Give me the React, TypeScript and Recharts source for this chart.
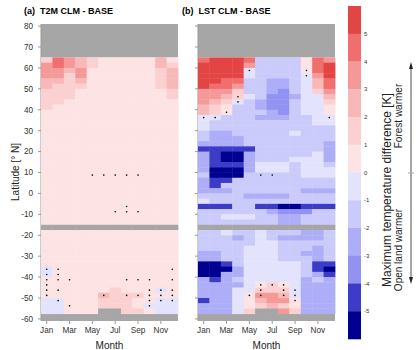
import React from 'react';
import { ScatterChart, Scatter, XAxis, YAxis, ReferenceArea } from 'recharts';

const months = ['Jan', 'Feb', 'Mar', 'Apr', 'May', 'Jun', 'Jul', 'Aug', 'Sep', 'Oct', 'Nov', 'Dec'];
const monthTicks = [1, 3, 5, 7, 9, 11];
const latTicks = [-60, -50, -40, -30, -20, -10, 0, 10, 20, 30, 40, 50, 60, 70, 80];

// top edge of each 2.5 degree latitude row, north to south
const rowTops = [
  65, 62.5, 60, 57.5, 55, 52.5, 50, 47.5, 45, 42.5, 40, 37.5, 35, 32.5, 30, 27.5, 25,
  22.5, 20, 17.5, 15, 12.5, 10, 7.5, 5, 2.5, 0, -2.5, -5, -7.5, -10, -12.5, -15, -17.5,
  -20, -22.5, -25, -27.5, -30, -32.5, -35, -37.5, -40, -42.5, -45, -47.5, -50, -52.5, -55,
];

// bin codes: '5' >5, '4' 4..5, ... '0' 0..1, 'a' -1..0, 'b' -2..-1, ... 'f' < -5, 'x' no data
const binCodes = ['5', '4', '3', '2', '1', '0', 'a', 'b', 'c', 'd', 'e', 'f'];
const binValues = [5.5, 4.5, 3.5, 2.5, 1.5, 0.5, -0.5, -1.5, -2.5, -3.5, -4.5, -5.5];
const binColors = [
  '#e34444', '#f06e6e', '#f59898', '#f8b8b8', '#fbd0d0', '#fde3e3',
  '#e3e3fd', '#cacafb', '#aeaef8', '#9292f3', '#3c3cc8', '#000090',
];
const cbTicks = [5, 4, 3, 2, 1, 0, -1, -2, -3, -4, -5];

// (a) T2M CLM - BASE, Jan..Dec per row
const t2mRows = [
  '143210000020', '343210000021', '332300000012', '331300000012', '221200000012',
  '211100000012', '111000000001', '111000000001', '110000000000', '100000000000',
  '000000000000', '000000000000', '000000000000', '000000000000', '000000000000',
  '000000000000', '000000000000', '000000000000', '000000000000', '000000000000',
  '000000000000', '000000000000', '000000000000', '000000000000', '000000000000',
  '000000000000', '000000000000', '000000000000', '000000000000', '000000000000',
  '000000000000', '000000000000', 'xxxxxxxxxxxx', '000000000000', '000000000000',
  '000000000000', '000000000000', '000000000000', '000000000000', '000000000000',
  'a00000000000', 'a00000000000', '000000000000', '000000000000', '0000001000a0',
  '000002111000', 'aa00011100aa', 'aa0001110aaa', 'aa000xx110aa',
];

// (b) LST CLM - BASE
const lstRows = [
  '45554bbbb043', '55553bbbb045', '5555abbbb045', '5555abbbba35', '5544bbccba24',
  '5443bbccba24', '3331bbcdba13', '3321abddcaa2', '321abcddbaa1', '210bbcddbaa0',
  '210bbbcdbaa0', 'aabbbcccbbaa', 'abbbbbbbbbaa', 'abbbbbbbbbbb', 'bccbbbbbabbb',
  'bcccbbbbbbbb', 'ccccbbbbbbbc', 'eeeeebbbbbbc', 'ceffcbbbbbac', 'ceffcbbbaaac',
  'ceeecaaabaab', 'cfffcaaabaaa', 'bfffbbbbbaaa', 'ceebbbbbbbbb', 'cebbbbbbbbbb',
  'cccbbbbbbccc', 'bbbbccccbbbb', 'abbbbbbbbbbb', 'eeebbeeffeee', 'bbbbbbcdddbb',
  'bbaaabbccbbb', 'bbbbbbbccbbb', 'xxxxxxxxxxxx', 'bbabbabbbccb', 'bbbcbabccccb',
  'bbbbbaabbbbb', 'bbbbaaabbbcb', 'ccbbaaabbccb', 'ccbbaaabbbcb', 'ffebaaaaabee',
  'fffcaaaaabef', 'ffccaaaaabce', 'cecbaaaaacbc', 'cccca010accc', 'cccaa111accc',
  'ccca0332accc', 'ecca02330ccc', 'ccca01210ccc', 'ccca1xx31ccc',
];

// significance stippling: [month, latitude]
const t2mDots = [
  [5, 8.75], [6, 8.75], [7, 8.75], [8, 8.75], [9, 8.75],
  [8, -6.25], [7, -8.75], [8, -8.75], [9, -8.75],
  [1, -36.25], [1, -38.75], [1, -41.25], [1, -43.75], [1, -46.25], [1, -48.75],
  [2, -36.25], [2, -38.75], [2, -41.25], [2, -46.25], [2, -51.25],
  [3, -41.25], [3, -53.75], [6, -48.75], [8, -41.25], [8, -48.75], [9, -41.25], [9, -48.75],
  [10, -41.25], [10, -46.25], [10, -48.75], [10, -51.25], [10, -53.75],
  [11, -46.25], [11, -48.75], [11, -51.25],
  [12, -36.25], [12, -41.25], [12, -46.25], [12, -48.75], [12, -51.25],
];
const lstDots = [
  [5, 58.75], [10, 58.75], [10, 56.25], [4, 46.25], [4, 43.75], [3, 38.75],
  [1, 36.25], [2, 36.25], [12, 36.25], [6, 8.75], [7, 8.75],
  [6, -43.75], [7, -43.75], [8, -43.75], [6, -46.25], [8, -46.25], [9, -46.25],
  [5, -48.75], [6, -48.75], [8, -48.75], [9, -48.75], [9, -51.25],
];

const GREY = '#a6a6a6';
const FONT = '"Liberation Sans", Arial, sans-serif';
const PLOT_W = 137;
const PLOT_H = 297;
const LAT_MIN = -61;
const LAT_MAX = 81;
const CELL_W = PLOT_W / 12;
const CELL_H = (PLOT_H * 2.5) / (LAT_MAX - LAT_MIN);
const CB_H = 333;

const buildCells = (rows: string[]) =>
  rows.flatMap((row, i) =>
    row.split('').map((code, j) => ({
      month: j + 1,
      lat: rowTops[i] - 1.25,
      v: code === 'x' ? null : binValues[binCodes.indexOf(code)],
    })),
  );

const colorFor = (v: number | null) => {
  if (v === null || v === undefined) return GREY;
  const k = binValues.indexOf(v);
  return binColors[k];
};

const CellShape = (props: any) => {
  const { cx, cy, payload } = props;
  return (
    <rect
      x={cx - CELL_W / 2}
      y={cy - CELL_H / 2}
      width={CELL_W + 0.4}
      height={CELL_H + 0.4}
      fill={colorFor(payload.v)}
    />
  );
};

const DotShape = (props: any) => <circle cx={props.cx} cy={props.cy} r={0.8} fill="#000" />;

const CbShape = (props: any) => {
  const { cx, cy, payload } = props;
  return (
    <rect x={cx - 6.5} y={cy - CB_H / 24} width={13} height={CB_H / 12 + 0.3} fill={colorFor(payload.v)} />
  );
};

function Panel({ rows, dots, labels }: { rows: string[]; dots: number[][]; labels: boolean }) {
  const cells = buildCells(rows);
  const dotData = dots.map(([m, lat]) => ({ month: m, lat }));
  const yW = labels ? 41 : 8;
  return (
    <ScatterChart width={yW + PLOT_W + 2} height={350} margin={{ top: 24, right: 2, bottom: 0, left: 0 }}>
      <XAxis
        type="number"
        dataKey="month"
        domain={[0.5, 12.5]}
        ticks={monthTicks}
        tickFormatter={(m: number) => months[m - 1]}
        axisLine={false}
        tickLine={{ stroke: '#999' }}
        tickSize={3}
        tickMargin={3}
        tick={{ fontSize: 8.2, fill: '#333' }}
        height={29}
        label={{ value: 'Month', position: 'insideBottom', offset: 1.5, fontSize: 10, fill: '#222' }}
      />
      <YAxis
        type="number"
        dataKey="lat"
        domain={[LAT_MIN, LAT_MAX]}
        ticks={latTicks}
        width={yW}
        axisLine={{ stroke: '#999' }}
        tickLine={{ stroke: '#999' }}
        tickSize={3}
        tickMargin={5}
        tick={{ fontSize: 8.2, fill: '#333' }}
        tickFormatter={(t: number) => (labels ? String(t) : '')}
      />
      <ReferenceArea y1={65} y2={LAT_MAX} fill={GREY} fillOpacity={1} stroke="none" />
      <ReferenceArea y1={LAT_MIN} y2={-57.5} fill={GREY} fillOpacity={1} stroke="none" />
      <Scatter data={cells} shape={CellShape} isAnimationActive={false} />
      <Scatter data={dotData} shape={DotShape} isAnimationActive={false} />
    </ScatterChart>
  );
}

function ColorBar() {
  const data = binValues.map((v) => ({ x: 0.5, v }));
  return (
    <ScatterChart width={36} height={350} margin={{ top: 6, right: 0, bottom: 11, left: 8 }}>
      <XAxis type="number" dataKey="x" domain={[0, 1]} hide />
      <YAxis
        type="number"
        dataKey="v"
        domain={[-6, 6]}
        ticks={cbTicks}
        orientation="right"
        width={15}
        axisLine={false}
        tickLine={false}
        tickSize={0}
        tickMargin={3}
        tick={{ fontSize: 6, fill: '#333' }}
      />
      <Scatter data={data} shape={CbShape} isAnimationActive={false} />
    </ScatterChart>
  );
}

export default function App() {
  return (
    <div style={{ position: 'absolute', left: 0, top: 0, width: 416, height: 350, background: '#fff', fontFamily: FONT }}>
      <div style={{ position: 'absolute', left: 0, top: 0 }}>
        <Panel rows={t2mRows} dots={t2mDots} labels />
      </div>
      <div style={{ position: 'absolute', left: 190, top: 0 }}>
        <Panel rows={lstRows} dots={lstDots} labels={false} />
      </div>
      <div style={{ position: 'absolute', left: 340, top: 0 }}>
        <ColorBar />
      </div>
      <div style={{ position: 'absolute', left: 24, top: 6, fontSize: 9, fontWeight: 'bold', whiteSpace: 'pre' }}>
        {'(a)  T2M CLM - BASE'}
      </div>
      <div style={{ position: 'absolute', left: 182, top: 6, fontSize: 9, fontWeight: 'bold', whiteSpace: 'pre' }}>
        {'(b)  LST CLM - BASE'}
      </div>
      <svg style={{ position: 'absolute', left: 0, top: 0 }} width={416} height={350}>
        <text x={15.5} y={172} transform="rotate(-90 15.5 172)" textAnchor="middle" dominantBaseline="central" fontSize={10} fill="#222">
          Latitude [° N]
        </text>
        <text x={387} y={190} transform="rotate(-90 387 190)" textAnchor="middle" dominantBaseline="central" fontSize={12} fill="#222">
          Maximum temperature difference [K]
        </text>
        <text x={398.5} y={116} transform="rotate(-90 398.5 116)" textAnchor="middle" dominantBaseline="central" fontSize={10} fill="#222">
          Forest warmer
        </text>
        <text x={398.5} y={250} transform="rotate(-90 398.5 250)" textAnchor="middle" dominantBaseline="central" fontSize={10} fill="#222">
          Open land warmer
        </text>
        <line x1={411} y1={67} x2={411} y2={279} stroke="#222" strokeWidth={0.8} />
        <polygon points="411,62 409,69 413,69" fill="#222" />
        <polygon points="411,284 409,277 413,277" fill="#222" />
        <line x1={408} y1={173} x2={414} y2={173} stroke="#aaa" strokeWidth={1} />
      </svg>
    </div>
  );
}
